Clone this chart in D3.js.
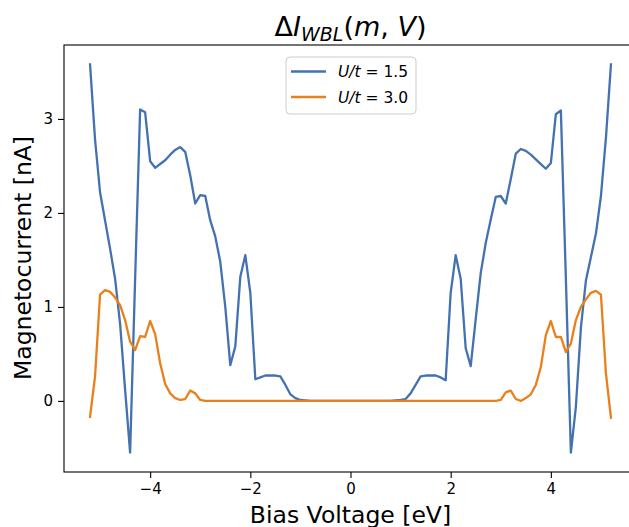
<!DOCTYPE html>
<html>
<head>
<meta charset="utf-8">
<script src="https://cdn.jsdelivr.net/npm/d3@7"></script>
<style>
  body { margin: 0; background: #fff; }
  svg { display: block; font-family: "DejaVu Sans", sans-serif; }
</style>
</head>
<body>
<svg id="chart" width="629" height="527"></svg>
<script>
// bias voltage grid (eV)
const bias = [
  -5.2, -5.1, -5.0, -4.9, -4.8, -4.7, -4.6, -4.5, -4.4, -4.3, -4.2, -4.1, -4.0, -3.9, -3.8,
  -3.7, -3.6, -3.5, -3.4, -3.3, -3.2, -3.1, -3.0, -2.9, -2.8, -2.7, -2.6, -2.5, -2.4, -2.3,
  -2.2, -2.1, -2.0, -1.9, -1.8, -1.7, -1.6, -1.5, -1.4, -1.3, -1.2, -1.1, -1.0, -0.9, -0.8,
  -0.7, -0.6, -0.5, -0.4, -0.3, -0.2, -0.1, 0.0, 0.1, 0.2, 0.3, 0.4, 0.5, 0.6, 0.7,
  0.8, 0.9, 1.0, 1.1, 1.2, 1.3, 1.4, 1.5, 1.6, 1.7, 1.8, 1.9, 2.0, 2.1, 2.2,
  2.3, 2.4, 2.5, 2.6, 2.7, 2.8, 2.9, 3.0, 3.1, 3.2, 3.3, 3.4, 3.5, 3.6, 3.7,
  3.8, 3.9, 4.0, 4.1, 4.2, 4.3, 4.4, 4.5, 4.6, 4.7, 4.8, 4.9, 5.0, 5.1, 5.2
];

// U/t = 1.5 magnetocurrent (nA)
const current15 = [
  3.58, 2.78, 2.22, 1.92, 1.62, 1.30, 0.82, 0.12, -0.55, 1.30, 3.10, 3.07, 2.55, 2.48, 2.52,
  2.56, 2.62, 2.67, 2.70, 2.65, 2.40, 2.10, 2.19, 2.18, 1.92, 1.75, 1.48, 1.00, 0.38, 0.58,
  1.32, 1.55, 1.15, 0.23, 0.25, 0.27, 0.27, 0.27, 0.26, 0.17, 0.07, 0.03, 0.01, 0.005, 0,
  0, 0, 0, 0, 0, 0, 0, 0, 0, 0, 0, 0, 0, 0, 0,
  0, 0.005, 0.01, 0.02, 0.08, 0.17, 0.26, 0.27, 0.27, 0.27, 0.25, 0.22, 1.15, 1.55, 1.30,
  0.56, 0.37, 0.87, 1.36, 1.68, 1.93, 2.17, 2.18, 2.10, 2.36, 2.63, 2.68, 2.66, 2.62, 2.57,
  2.52, 2.47, 2.53, 3.05, 3.09, 1.30, -0.55, -0.06, 0.78, 1.28, 1.53, 1.78, 2.18, 2.80, 3.58
];

// U/t = 3.0 magnetocurrent (nA)
const current30 = [
  -0.17, 0.26, 1.13, 1.18, 1.16, 1.10, 1.02, 0.86, 0.63, 0.54, 0.69, 0.68, 0.85, 0.71, 0.40,
  0.18, 0.08, 0.03, 0.01, 0.02, 0.11, 0.08, 0.01, 0, 0, 0, 0, 0, 0, 0,
  0, 0, 0, 0, 0, 0, 0, 0, 0, 0, 0, 0, 0, 0, 0,
  0, 0, 0, 0, 0, 0, 0, 0, 0, 0, 0, 0, 0, 0, 0,
  0, 0, 0, 0, 0, 0, 0, 0, 0, 0, 0, 0, 0, 0, 0,
  0, 0, 0, 0, 0, 0, 0, 0.01, 0.09, 0.11, 0.02, 0.00, 0.03, 0.07, 0.17,
  0.36, 0.70, 0.85, 0.68, 0.68, 0.52, 0.61, 0.86, 1.00, 1.08, 1.15, 1.17, 1.13, 0.29, -0.18
];

const seriesNames = ['1.5', '3.0'];
const seriesColors = ['#4472b0', '#e8801c'];
const xTicks = [-4, -2, 0, 2, 4];
const yTicks = [0, 1, 2, 3];

const svg = d3.select('#chart');
const axLeft = 64, axRight = 637, axTop = 45, axBottom = 472;

// matplotlib style 5% margins
const xExt = d3.extent(bias), yExt = d3.extent(current15.concat(current30));
const xPad = (xExt[1] - xExt[0]) * 0.05, yPad = (yExt[1] - yExt[0]) * 0.05;

const x = d3.scaleLinear().domain([xExt[0] - xPad, xExt[1] + xPad]).range([axLeft, axRight]);
const y = d3.scaleLinear().domain([yExt[0] - yPad, yExt[1] + yPad]).range([axBottom, axTop]);

svg.append('clipPath').attr('id', 'clip')
  .append('rect').attr('x', axLeft).attr('y', axTop)
  .attr('width', axRight - axLeft).attr('height', axBottom - axTop);

const line = d3.line().x((d, i) => x(bias[i])).y(d => y(d));

const plot = svg.append('g').attr('clip-path', 'url(#clip)');
[current15, current30].forEach((s, k) => {
  plot.append('path')
    .datum(s)
    .attr('d', line)
    .attr('fill', 'none')
    .attr('stroke', seriesColors[k])
    .attr('stroke-width', 2.3)
    .attr('stroke-linejoin', 'round')
    .attr('stroke-linecap', 'square');
});

// axes
const fmt = d => d3.format('d')(d).replace('-', '\u2212');
const xAxis = svg.append('g')
  .attr('transform', `translate(0,${axBottom})`)
  .call(d3.axisBottom(x).tickValues(xTicks).tickFormat(fmt).tickSize(6).tickPadding(5));
const yAxis = svg.append('g')
  .attr('transform', `translate(${axLeft},0)`)
  .call(d3.axisLeft(y).tickValues(yTicks).tickFormat(fmt).tickSize(6).tickPadding(5));

[xAxis, yAxis].forEach(g => {
  g.select('.domain').remove();
  g.selectAll('.tick line').attr('stroke', '#000').attr('stroke-width', 1.1);
  g.selectAll('.tick text').attr('fill', '#000')
    .style('font-family', '"DejaVu Sans", sans-serif').style('font-size', '15px');
});

// frame
svg.append('rect')
  .attr('x', axLeft).attr('y', axTop).attr('width', axRight - axLeft).attr('height', axBottom - axTop)
  .attr('fill', 'none').attr('stroke', '#000').attr('stroke-width', 1.1);

// axis labels
svg.append('text')
  .attr('x', (axLeft + axRight) / 2).attr('y', 523)
  .attr('text-anchor', 'middle').style('font-size', '23.5px')
  .text('Bias Voltage [eV]');

svg.append('text')
  .attr('transform', 'translate(31,258) rotate(-90)')
  .attr('text-anchor', 'middle').style('font-size', '23.5px')
  .text('Magnetocurrent [nA]');

// title  ΔI_WBL(m, V)
const title = svg.append('text')
  .attr('x', (axLeft + axRight) / 2).attr('y', 36)
  .attr('text-anchor', 'middle').style('font-size', '27px');
title.append('tspan').text('\u0394');
title.append('tspan').style('font-style', 'italic').text('I');
title.append('tspan').style('font-style', 'italic').style('font-size', '19px').attr('dy', 5).text('WBL');
title.append('tspan').attr('dy', -5).text('(');
title.append('tspan').style('font-style', 'italic').text('m');
title.append('tspan').text(', ');
title.append('tspan').style('font-style', 'italic').text('V');
title.append('tspan').text(')');

// legend
const lg = svg.append('g').attr('transform', 'translate(286,57)');
lg.append('rect')
  .attr('width', 130).attr('height', 57).attr('rx', 4)
  .attr('fill', '#fff').attr('fill-opacity', 0.8)
  .attr('stroke', '#cccccc').attr('stroke-width', 1);
seriesNames.forEach((name, k) => {
  const yy = 14.5 + k * 25.5;
  lg.append('line')
    .attr('x1', 5).attr('x2', 40).attr('y1', yy).attr('y2', yy)
    .attr('stroke', seriesColors[k]).attr('stroke-width', 2.3);
  const t = lg.append('text').attr('x', 52).attr('y', yy + 5.5).style('font-size', '15.5px');
  t.append('tspan').style('font-style', 'italic').text('U/t');
  t.append('tspan').text(' = ' + name);
});
</script>
</body>
</html>
